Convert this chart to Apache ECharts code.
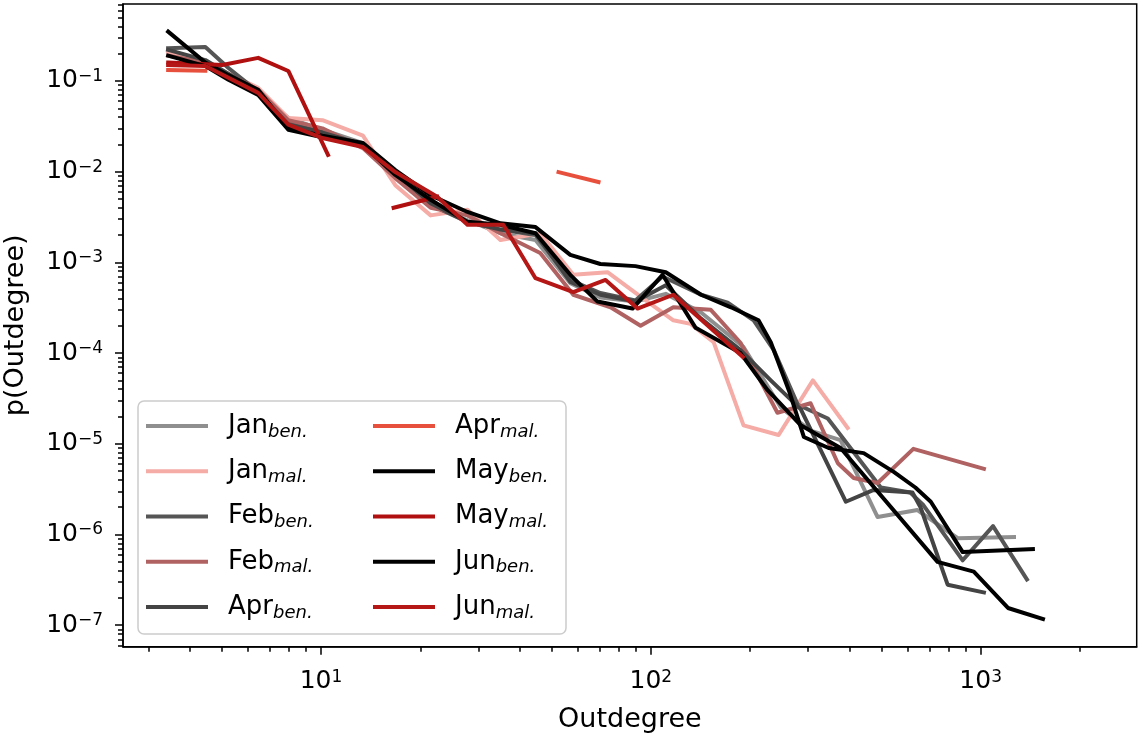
<!DOCTYPE html>
<html><head><meta charset="utf-8">
<script src="https://cdn.jsdelivr.net/npm/echarts@6/dist/echarts.min.js"></script>
<style>html,body{margin:0;padding:0;background:#fff}#c{width:1142px;height:738px}</style>
</head><body><div id="c"></div>
<script>
// ---- data ----
const seriesNames = ['Jan ben.','Jan mal.','Feb ben.','Feb mal.','Apr ben.','Apr mal.','May ben.','May mal.','Jun ben.','Jun mal.'];
const seriesColors = ['#8f8f8f','#f5aba6','#555555','#b06262','#444444','#e8503e','#000000','#b01010','#000000','#b51717'];

const janBen = [[3.44,0.22],[4.46,0.16],[6.45,0.076],[7.96,0.039],[10.1,0.029],[13.4,0.0207],[16.8,0.0099],[21.5,0.0043],[27.8,0.0029],[35.0,0.0021],[44.7,0.00177],[57.0,0.00059],[70.3,0.00041],[89.8,0.00037],[111,0.00045],[142,0.00028],[191,0.000117],[248,2.5e-5],[305,1.4e-5],[376,1.1e-5],[487,1.56e-6],[643,1.86e-6],[852,9.1e-7],[1262,9.4e-7]];
const janMal = [[3.44,0.21],[4.46,0.16],[6.45,0.084],[7.96,0.039],[10.1,0.037],[13.4,0.025],[16.8,0.0071],[21.5,0.0033],[27.8,0.0038],[35.0,0.00177],[46.2,0.0021],[58.2,0.00073],[73.9,0.00078],[93.1,0.00042],[117,0.00023],[132,0.00021],[155,0.000132],[191,1.6e-5],[244,1.25e-5],[310,5.0e-5],[395,1.5e-5]];
const febBen = [[3.44,0.23],[4.46,0.237],[5.24,0.139],[6.45,0.076],[7.96,0.035],[10.1,0.027],[13.4,0.0197],[16.8,0.0092],[21.5,0.0043],[27.8,0.0028],[35.0,0.0023],[44.7,0.0020],[57.0,0.00064],[70.3,0.00046],[89.8,0.00038],[108.5,0.00070],[142,0.00044],[171,0.00036],[205,0.00023],[236,0.000108],[279,2.7e-5],[344,1.9e-5],[498,3.3e-6],[612,2.9e-6],[671,2.1e-6],[882,5.2e-7],[1090,1.24e-6],[1381,3.2e-7]];
const febMal = [[3.44,0.19],[4.46,0.16],[6.45,0.080],[7.96,0.037],[10.1,0.030],[13.4,0.0182],[16.8,0.0085],[21.5,0.0040],[27.8,0.0033],[35.0,0.0021],[46.2,0.00127],[58.2,0.00044],[75.5,0.00032],[93.1,0.00020],[117,0.00032],[152,0.00030],[187,0.00013],[242,2.2e-5],[305,2.8e-5],[369,6.1e-6],[412,4.2e-6],[487,3.7e-6],[625,8.8e-6],[1023,5.3e-6]];
const aprBen = [[3.44,0.22],[4.46,0.17],[6.45,0.076],[7.96,0.033],[10.1,0.027],[13.4,0.020],[16.8,0.0097],[21.5,0.0045],[27.8,0.0028],[35.0,0.0023],[44.7,0.0021],[57.0,0.00061],[70.3,0.00044],[89.8,0.00037],[111,0.00056],[142,0.00024],[187,0.000108],[231,5.0e-5],[285,2.4e-5],[390,2.3e-6],[474,3.1e-6],[621,2.9e-6],[657,2.0e-6],[794,2.8e-7],[1023,2.3e-7]];
const aprMal = [[3.44,0.132],[4.46,0.13],[20,null],[52.5,0.0099],[69.4,0.0077]];
const mayBen = [[3.44,0.35],[4.46,0.16],[5.24,0.116],[6.45,0.080],[7.96,0.030],[10.1,0.025],[13.4,0.0207],[16.8,0.0104],[21.5,0.0055],[27.8,0.0036],[35.0,0.0027],[44.7,0.00245],[57.0,0.00121],[70.3,0.00096],[89.8,0.00091],[111,0.00078],[142,0.00044],[175,0.00032],[212,0.00023],[231,0.000132],[262,3.9e-5],[291,1.19e-5],[346,9.0e-6],[442,7.9e-6],[545,4.9e-6],[634,3.3e-6],[706,2.3e-6],[882,6.4e-7],[1440,6.9e-7]];
const mayMal = [[3.44,0.16],[5.02,0.15],[6.45,0.18],[7.96,0.129],[10.5,0.0153],[13,null],[16.6,0.0040],[22.5,0.0053]];
const junBen = [[3.44,0.19],[4.46,0.146],[5.24,0.103],[6.45,0.070],[7.96,0.029],[10.1,0.024],[13.4,0.0197],[16.8,0.0092],[21.5,0.0049],[27.8,0.0028],[35.0,0.0026],[44.7,0.0021],[57.0,0.00073],[68.9,0.00037],[88.0,0.00031],[108.5,0.00073],[136.7,0.00019],[187,0.000100],[226,3.9e-5],[285,1.6e-5],[376,9.0e-6],[740,5.0e-7],[953,3.9e-7],[1210,1.55e-7],[1545,1.17e-7]];
const junMal = [[3.44,0.15],[4.46,0.146],[6.45,0.074],[7.96,0.033],[10.1,0.0235],[13.4,0.0187],[16.8,0.0099],[22.5,0.0053],[27.8,0.0026],[35.7,0.0026],[44.7,0.00067],[58.2,0.00047],[72.9,0.00064],[91.1,0.00031],[117,0.00044],[190,0.000091]];
const seriesData = [janBen, janMal, febBen, febMal, aprBen, aprMal, mayBen, mayMal, junBen, junMal];

const xMajorTicks = [10, 100, 1000];
const xMinorTicks = [3,4,5,6,7,8,9,20,30,40,50,60,70,80,90,200,300,400,500,600,700,800,900,2000];
const yMajorTicks = [1e-7, 1e-6, 1e-5, 1e-4, 1e-3, 1e-2, 1e-1];
const xRange = [2.51, 2972];
const yRange = [5.8e-8, 0.706];

const yMinorTicks = [];
for (let e = -8; e <= -1; e++) {
  for (let k = 2; k <= 9; k++) {
    const v = k * Math.pow(10, e);
    if (v > yRange[0] && v < yRange[1]) yMinorTicks.push(v);
  }
}

// ---- chart ----
const FONT = 'DejaVu Sans';
const tickRich = {
  b: {fontSize: 25, fontFamily: FONT, color: '#000', lineHeight: 26, verticalAlign: 'middle'},
  s: {fontSize: 17, fontFamily: FONT, color: '#000', lineHeight: 26, verticalAlign: 'top'}
};
function powLabel(v) {
  const e = Math.round(Math.log10(v));
  return '{b|10}{s|' + (e < 0 ? '\u2212' + (-e) : String(e)) + '}';
}
const legendRich = {
  m: {fontSize: 26, fontFamily: FONT, color: '#000', lineHeight: 30, verticalAlign: 'middle', padding: [0, 0, 0, 15]},
  s: {fontSize: 18, fontFamily: FONT, fontStyle: 'italic', color: '#000', lineHeight: 30, verticalAlign: 'bottom'}
};
function legendFmt(name) {
  const p = name.split(' ');
  return '{m|' + p[0] + '}{s|' + p[1] + '}';
}
const axisLineStyle = {color: '#000', width: 1.5};

function makeLegend(names, left) {
  return {
    data: names, left: left, top: 413, orient: 'vertical', padding: 0,
    itemWidth: 62, itemHeight: 4, itemGap: 17.25, itemTextGap: 20, icon: 'rect',
    selectedMode: false, formatter: legendFmt, textStyle: {rich: legendRich}
  };
}

const option = {
  animation: false,
  backgroundColor: '#fff',
  grid: {left: 123, top: 4, width: 1013.7, height: 642.7, show: true, borderColor: '#000', borderWidth: 1.5, containLabel: false, outerBoundsMode: 'none'},
  xAxis: [
    {type: 'log', logBase: 10, min: xRange[0], max: xRange[1], position: 'bottom',
     axisLine: {show: true, onZero: false, lineStyle: axisLineStyle},
     axisTick: {show: true, customValues: xMajorTicks, length: 8, lineStyle: axisLineStyle},
     axisLabel: {show: true, customValues: xMajorTicks, formatter: powLabel, rich: tickRich, margin: 22},
     splitLine: {show: false}, minorTick: {show: false},
     name: 'Outdegree', nameLocation: 'middle', nameGap: 60,
     nameTextStyle: {fontSize: 27, fontFamily: FONT, color: '#000'}},
    {type: 'log', logBase: 10, min: xRange[0], max: xRange[1], position: 'bottom', offset: 0,
     axisLine: {show: false},
     axisTick: {show: true, customValues: xMinorTicks, length: 5, lineStyle: axisLineStyle},
     axisLabel: {show: false}, splitLine: {show: false}}
  ],
  yAxis: [
    {type: 'log', logBase: 10, min: yRange[0], max: yRange[1], position: 'left',
     axisLine: {show: true, onZero: false, lineStyle: axisLineStyle},
     axisTick: {show: true, customValues: yMajorTicks, length: 8, lineStyle: axisLineStyle},
     axisLabel: {show: true, customValues: yMajorTicks, formatter: powLabel, rich: tickRich, margin: 20},
     splitLine: {show: false}, minorTick: {show: false},
     name: 'p(Outdegree)', nameLocation: 'middle', nameGap: 94,
     nameTextStyle: {fontSize: 27, fontFamily: FONT, color: '#000'}},
    {type: 'log', logBase: 10, min: yRange[0], max: yRange[1], position: 'left', offset: 0,
     axisLine: {show: false},
     axisTick: {show: true, customValues: yMinorTicks, length: 5, lineStyle: axisLineStyle},
     axisLabel: {show: false}, splitLine: {show: false}}
  ],
  legend: [makeLegend(seriesNames.slice(0, 5), 146), makeLegend(seriesNames.slice(5), 373)],
  graphic: [{
    type: 'rect', z: 3, silent: true,
    shape: {x: 138, y: 401, width: 428, height: 233, r: 6},
    style: {fill: 'rgba(255,255,255,0.8)', stroke: '#cccccc', lineWidth: 1.5}
  }],
  series: seriesNames.map((n, i) => ({
    name: n, type: 'line', xAxisIndex: 0, yAxisIndex: 0,
    data: seriesData[i], showSymbol: false, symbol: 'none', connectNulls: false,
    lineStyle: {width: 4, color: seriesColors[i], join: 'round', cap: 'square'},
    itemStyle: {color: seriesColors[i]},
    emphasis: {disabled: true}, silent: true
  }))
};

const chart = echarts.init(document.getElementById('c'), null, {renderer: 'canvas'});
chart.setOption(option);
</script>
</body></html>
